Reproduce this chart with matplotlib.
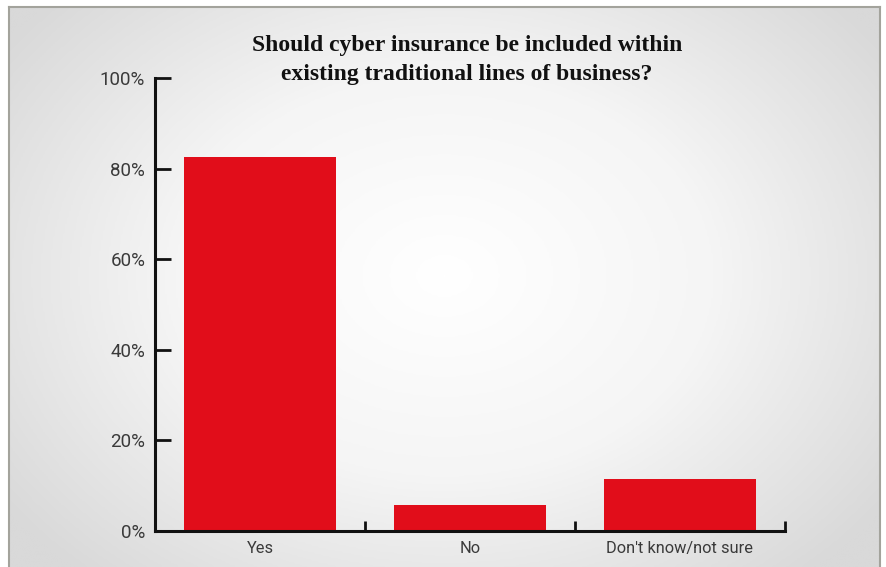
import numpy as np
import matplotlib.pyplot as plt
from matplotlib.colors import LinearSegmentedColormap

categories = ["Yes", "No", "Don't know/not sure"]
values = [82.6, 5.8, 11.5]
yticks = [0, 20, 40, 60, 80, 100]
ytick_labels = ["0%", "20%", "40%", "60%", "80%", "100%"]
title = "Should cyber insurance be included within\nexisting traditional lines of business?"

W, H = 886, 567
fig = plt.figure(figsize=(W / 100, H / 100), dpi=100)
fig.patch.set_facecolor("white")

# panel with radial grey-to-white gradient
bg = fig.add_axes([9 / W, 0, (880 - 9) / W, (H - 7) / H])
yy, xx = np.mgrid[0:1:300j, 0:1:470j]
r = np.sqrt(((xx - 0.5) / 0.62) ** 2 + ((yy - 0.52) / 0.72) ** 2)
cmap = LinearSegmentedColormap.from_list("bgfade", ["#ffffff", "#f5f5f5", "#d9d9d9"])
bg.imshow(np.clip(r, 0, 1), cmap=cmap, vmin=0, vmax=1, aspect="auto",
          extent=[0, 1, 0, 1], origin="lower", interpolation="bilinear")
bg.set_xticks([])
bg.set_yticks([])
for side in ["top", "left", "right"]:
    bg.spines[side].set_color("#a3a39c")
    bg.spines[side].set_linewidth(1.5)
bg.spines["bottom"].set_visible(False)

ax = fig.add_axes([155 / W, 1 - 531 / H, (785 - 155) / W, (531 - 78) / H])
ax.patch.set_alpha(0)
x = np.arange(len(categories))
ax.bar(x, values, width=0.72, color="#e10d1a", zorder=1)

ax.set_xlim(-0.5, 2.5)
ax.set_ylim(0, 100)
ax.set_yticks(yticks)
ax.set_yticklabels(ytick_labels)
ax.set_xticks(x)
ax.set_xticklabels(categories)
ax.set_xticks([0.5, 1.5, 2.5], minor=True)

for side in ["top", "right"]:
    ax.spines[side].set_visible(False)
for side in ["left", "bottom"]:
    ax.spines[side].set_linewidth(2.2)
    ax.spines[side].set_color("#111111")
    ax.spines[side].set_zorder(3)

ax.tick_params(axis="y", direction="in", length=11.5, width=2, color="#111111",
               pad=7, labelsize=13.5, labelcolor="#3a3a3a")
ax.tick_params(axis="x", which="major", length=0, pad=7, labelsize=11.8,
               labelcolor="#3a3a3a")
ax.tick_params(axis="x", which="minor", direction="in", length=7.5, width=2,
               color="#111111")
for lab in ax.get_xticklabels() + ax.get_yticklabels():
    lab.set_family(["Roboto", "DejaVu Sans"])

fig.text(467 / W, 1 - 60 / H, title, ha="center", va="center", fontsize=17,
         fontweight="bold", family=["Liberation Serif", "DejaVu Serif"],
         color="#111111", linespacing=1.45)

fig.savefig("out.png", dpi=100)
